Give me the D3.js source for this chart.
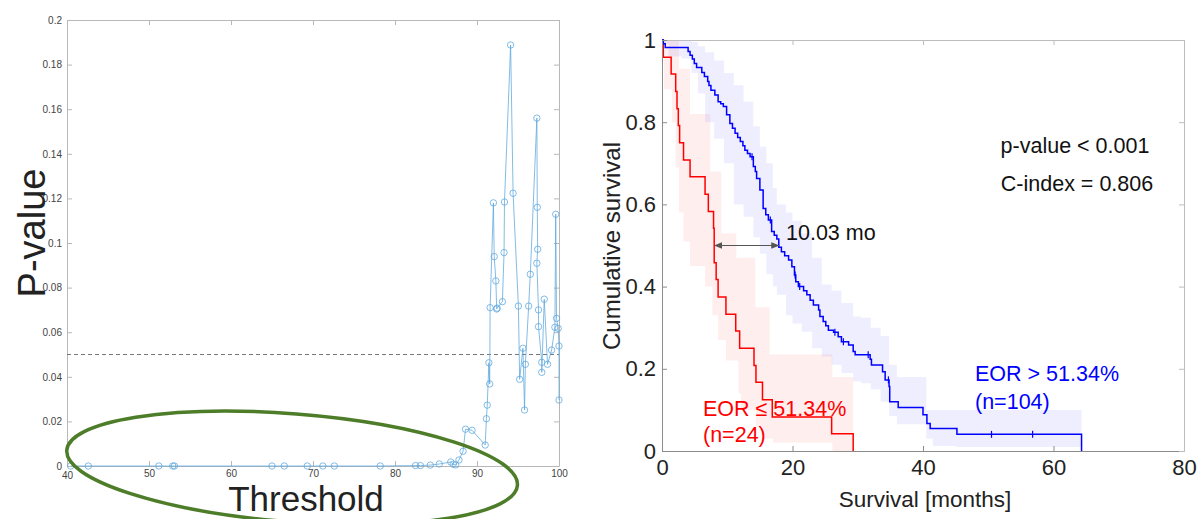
<!DOCTYPE html>
<html>
<head>
<meta charset="utf-8">
<script src="https://cdn.jsdelivr.net/npm/d3@7"></script>
<style>
  body { margin: 0; background: #fff; }
  text { font-family: Helvetica, Arial, "Liberation Sans", sans-serif; }
</style>
</head>
<body>
<div id="chart"></div>
<script>
// ==========================
// Data
// ==========================
// left panel: p-value per EOR threshold
const thresholds = [40.45, 42.6, 51.2, 52.9, 53.1, 65.0, 66.5, 69.3, 71.2, 72.6, 78.2,
  82.5, 83.1, 84.3, 85.4, 86.8, 87.1, 87.4, 87.8, 88.3, 88.6, 89.4, 91.0, 91.15, 91.25,
  91.45, 91.55, 91.6, 92.0, 92.1, 92.3, 92.4, 92.45, 93.1, 93.3, 93.35, 94.1, 94.4,
  95.05, 95.2, 95.6, 95.8, 95.9, 96.3, 96.5, 97.3, 97.35, 97.4, 97.3, 97.5, 97.5,
  97.9, 97.9, 98.2, 98.6, 99.1, 99.5, 99.6, 99.7, 99.9, 100, 100];
const pValues = [0, 0, 0, 0, 0, 0, 0, 0, 0, 0, 0,
  0.0002, 0.0002, 0.0004, 0.0009, 0.0018, 0.0008, 0.0005, 0.0027, 0.0066, 0.0165, 0.016, 0.0094, 0.0212, 0.0273,
  0.0463, 0.0368, 0.071, 0.118, 0.0939, 0.083, 0.0704, 0.0708, 0.0737, 0.0957, 0.1184, 0.1888, 0.1223,
  0.0717, 0.0389, 0.0528, 0.0251, 0.0456, 0.0717, 0.086, 0.156, 0.116, 0.0972, 0.0909, 0.07, 0.0625,
  0.0465, 0.042, 0.0748, 0.0456, 0.052, 0.0622, 0.1129, 0.0662, 0.0617, 0.0538, 0.0296];
const pCutoff = 0.05;

// right panel: Kaplan-Meier steps (time in months, survival after the drop)
const blueTimes = [0, 0.2, 0.5, 4.0, 4.3, 4.65, 4.95, 5.3, 6.1, 6.5, 7.0, 7.2, 7.5, 8.1, 8.6, 9.0, 9.4,
  9.9, 10.4, 10.8, 11.2, 11.6, 12.0, 12.4, 12.7, 13.1, 13.5, 14.0, 14.3, 14.5, 15.0, 15.5,
  15.9, 16.3, 16.8, 17.2, 17.6, 17.9, 18.3, 18.8, 19.4, 19.9, 20.3, 20.5, 20.9, 21.7, 22.2,
  22.7, 23.2, 24.0, 24.2, 24.7, 25.1, 25.5, 26.3, 27.0, 27.5, 28.6, 29.3, 29.6, 31.9, 32.1,
  33.8, 34.2, 34.8, 34.9, 36.2, 40.0, 40.6, 41.1, 45.2, 64.3];
const blueSurv = [1, 0.991, 0.982, 0.972, 0.963, 0.954, 0.943, 0.933, 0.921, 0.911, 0.899, 0.889, 0.878, 0.866, 0.85, 0.845, 0.838,
  0.818, 0.797, 0.785, 0.773, 0.763, 0.753, 0.743, 0.732, 0.724, 0.716, 0.692, 0.68, 0.663, 0.635, 0.59,
  0.575, 0.562, 0.534, 0.525, 0.516, 0.496, 0.485, 0.475, 0.465, 0.448, 0.428, 0.412, 0.40, 0.39, 0.38,
  0.367, 0.355, 0.343, 0.327, 0.315, 0.305, 0.294, 0.289, 0.278, 0.266, 0.258, 0.242, 0.234, 0.223, 0.209,
  0.193, 0.173, 0.157, 0.12, 0.106, 0.088, 0.067, 0.055, 0.0405, 0];
const blueCensor = [13.8, 16.6, 20.4, 21.1, 26.5, 27.8, 31.6, 34.7, 50.5, 56.8];

const redTimes = [0, 0.2, 1.4, 2.1, 2.3, 2.5, 2.7, 3.3, 4.3, 6.6, 7.1, 7.9, 8.0, 8.3, 8.6, 9.8,
  11.3, 11.9, 14.1, 14.4, 15.4, 16.9, 26.0, 29.3];
const redSurv = [1, 0.958, 0.917, 0.875, 0.833, 0.792, 0.75, 0.708, 0.667, 0.625, 0.583, 0.542, 0.458, 0.417, 0.375, 0.333,
  0.292, 0.25, 0.208, 0.167, 0.125, 0.083, 0.042, 0];

// confidence bands
const blueBandTimes = [0, 1, 3, 4.5, 5.5, 6.6, 8, 9.5, 11, 12.5, 14, 15, 16, 17, 17.6, 19, 20, 21.4,
  23, 24.5, 26, 27.5, 29.3, 30.5, 32, 33.5, 34.8, 36, 40.5, 41.5, 45, 64.3];
const blueBandLo = [0.99, 0.96, 0.955, 0.92, 0.87, 0.80, 0.76, 0.70, 0.60, 0.57, 0.52, 0.48, 0.43, 0.40, 0.38, 0.33, 0.31, 0.29,
  0.25, 0.23, 0.21, 0.19, 0.17, 0.165, 0.15, 0.12, 0.085, 0.065, 0.03, 0.012, 0.01, 0.01];
const blueBandHi = [1, 1, 1, 0.995, 0.985, 0.97, 0.95, 0.92, 0.89, 0.85, 0.79, 0.74, 0.70, 0.64, 0.60, 0.58, 0.56, 0.53,
  0.47, 0.405, 0.39, 0.36, 0.327, 0.324, 0.30, 0.28, 0.21, 0.18, 0.10, 0.10, 0.10, 0.10];

const redBandTimes = [0, 0.3, 1.5, 2.1, 2.6, 3.3, 4.3, 6.6, 7.4, 7.7, 8.6, 9.1, 9.8, 11.4, 11.7, 12.1, 14.3, 14.4,
  15.4, 16.5, 17.0, 26.1, 29.3];
const redBandLo = [0.96, 0.88, 0.80, 0.69, 0.58, 0.51, 0.45, 0.40, 0.40, 0.33, 0.27, 0.27, 0.22, 0.22, 0.14, 0.10, 0.10, 0.06,
  0.03, 0.03, 0.02, 0.0, 0.0];
const redBandHi = [1, 1, 1, 1, 0.93, 0.93, 0.82, 0.82, 0.68, 0.68, 0.68, 0.53, 0.53, 0.47, 0.47, 0.47, 0.35, 0.35,
  0.35, 0.235, 0.235, 0.18, 0.18];

const medians = [8.1, 17.9];

// ==========================
// SVG
// ==========================
const width = 1199, height = 519;
const svg = d3.select("#chart").append("svg")
  .attr("width", width).attr("height", height);

// ==========================
// Left panel
// ==========================
const xL = d3.scaleLinear().domain([40, 100]).range([67, 559]);
const yL = d3.scaleLinear().domain([0, 0.2]).range([466, 20]);
const left = svg.append("g");

function styleAxis(g, col, txt, fs) {
  g.selectAll("path, line").attr("stroke", col);
  g.selectAll("text").attr("fill", txt).attr("font-size", fs);
}

left.append("g").attr("transform", `translate(0,${yL(0)})`)
  .call(d3.axisBottom(xL).tickValues(d3.range(40, 101, 10)).tickSize(-5).tickSizeOuter(0).tickPadding(4))
  .call(g => styleAxis(g, "#b8b8b8", "#444", 10));
left.append("g").attr("transform", `translate(0,${yL(0.2)})`)
  .call(d3.axisTop(xL).tickValues(d3.range(40, 101, 10)).tickSize(-5).tickSizeOuter(0).tickFormat(""))
  .call(g => styleAxis(g, "#b8b8b8", "#444", 10));
left.append("g").attr("transform", `translate(${xL(40)},0)`)
  .call(d3.axisLeft(yL).tickValues(d3.range(0, 0.201, 0.02)).tickSize(-5).tickSizeOuter(0).tickPadding(5)
    .tickFormat(d => d3.format("~g")(+d.toFixed(2))))
  .call(g => styleAxis(g, "#b8b8b8", "#444", 10));
left.append("g").attr("transform", `translate(${xL(100)},0)`)
  .call(d3.axisRight(yL).tickValues(d3.range(0, 0.201, 0.02)).tickSize(-5).tickSizeOuter(0).tickFormat(""))
  .call(g => styleAxis(g, "#b8b8b8", "#444", 10));
// nudge the x "40" label below the y "0"
left.selectAll("text").filter(function() { return this.textContent === "40"; }).attr("dy", "0.9em");

// cutoff
left.append("line")
  .attr("x1", xL(40)).attr("x2", xL(100))
  .attr("y1", yL(pCutoff)).attr("y2", yL(pCutoff))
  .attr("stroke", "#777").attr("stroke-width", 1).attr("stroke-dasharray", "4,3");

const pts = thresholds.map((t, i) => ({ t, p: pValues[i] }));
left.append("path").datum(pts)
  .attr("fill", "none").attr("stroke", "#5aa5dc").attr("stroke-opacity", 0.75).attr("stroke-width", 1)
  .attr("d", d3.line().x(d => xL(d.t)).y(d => yL(d.p)));
left.selectAll(".pt").data(pts).enter().append("circle")
  .attr("cx", d => xL(d.t)).attr("cy", d => yL(d.p)).attr("r", 3.2)
  .attr("fill", "none").attr("stroke", "#5aa5dc").attr("stroke-opacity", 0.75).attr("stroke-width", 1);

left.append("text").attr("transform", "translate(45,233) rotate(-90)")
  .attr("text-anchor", "middle").attr("font-size", 38).attr("fill", "#222").text("P-value");
left.append("text").attr("x", 306).attr("y", 511)
  .attr("text-anchor", "middle").attr("font-size", 35).attr("fill", "#222").text("Threshold");

// annotation ellipse
const ell = { cx: 67.45, cy: -0.0008, rx: 226, ry: 54, angle: 4.45 };
left.append("ellipse")
  .attr("transform", `translate(${xL(ell.cx)},${yL(ell.cy)}) rotate(${ell.angle})`)
  .attr("rx", ell.rx).attr("ry", ell.ry)
  .attr("fill", "none").attr("stroke", "#4e7d2a").attr("stroke-width", 3.5);

// ==========================
// Right panel
// ==========================
const xR = d3.scaleLinear().domain([0, 80]).range([662, 1184]);
const yR = d3.scaleLinear().domain([0, 1]).range([451, 40]);
const right = svg.append("g");

function band(times, lo, hi, color) {
  const d = times.map((t, i) => ({ t, lo: lo[i], hi: hi[i] }));
  right.append("path").datum(d)
    .attr("fill", color).attr("fill-opacity", 0.065)
    .attr("d", d3.area().curve(d3.curveStepAfter)
      .x(d => xR(d.t)).y0(d => yR(d.lo)).y1(d => yR(d.hi)));
}
band(blueBandTimes, blueBandLo, blueBandHi, "#0000ff");
band(redBandTimes, redBandLo, redBandHi, "#ff0000");

function km(times, surv, color) {
  const d = times.map((t, i) => ({ t, s: surv[i] }));
  right.append("path").datum(d)
    .attr("fill", "none").attr("stroke", color).attr("stroke-width", 1.5)
    .attr("d", d3.line().curve(d3.curveStepAfter).x(d => xR(d.t)).y(d => yR(d.s)));
  return d;
}
km(redTimes, redSurv, "#ff0000");
const blueData = km(blueTimes, blueSurv, "#0000ff");

// censor marks
const survAt = t => { let s = 1; blueData.forEach(d => { if (d.t <= t) s = d.s; }); return s; };
right.selectAll(".cens").data(blueCensor).enter().append("line")
  .attr("x1", d => xR(d)).attr("x2", d => xR(d))
  .attr("y1", d => yR(survAt(d)) - 3.5).attr("y2", d => yR(survAt(d)) + 3.5)
  .attr("stroke", "#0000ff").attr("stroke-width", 1.2);

// axes
right.append("g").attr("transform", `translate(0,${yR(0)})`)
  .call(d3.axisBottom(xR).tickValues([0, 20, 40, 60, 80]).tickSize(-5).tickSizeOuter(0).tickPadding(8))
  .call(g => styleAxis(g, "#8c8c8c", "#222", 22));
right.append("g").attr("transform", `translate(0,${yR(1)})`)
  .call(d3.axisTop(xR).tickValues([0, 20, 40, 60, 80]).tickSize(-5).tickSizeOuter(0).tickFormat(""))
  .call(g => styleAxis(g, "#bdbdbd", "#222", 22));
right.append("g").attr("transform", `translate(${xR(0)},0)`)
  .call(d3.axisLeft(yR).tickValues([0, 0.2, 0.4, 0.6, 0.8, 1]).tickSize(-5).tickSizeOuter(0).tickPadding(6)
    .tickFormat(d3.format("~g")))
  .call(g => styleAxis(g, "#8c8c8c", "#222", 22));
right.append("g").attr("transform", `translate(${xR(80)},0)`)
  .call(d3.axisRight(yR).tickValues([0, 0.2, 0.4, 0.6, 0.8, 1]).tickSize(-5).tickSizeOuter(0).tickFormat(""))
  .call(g => styleAxis(g, "#bdbdbd", "#222", 22));

right.append("text").attr("transform", "translate(620,246) rotate(-90)")
  .attr("text-anchor", "middle").attr("font-size", 24).attr("fill", "#222").text("Cumulative survival");
right.append("text").attr("x", 925).attr("y", 507)
  .attr("text-anchor", "middle").attr("font-size", 22.5).attr("fill", "#222").text("Survival [months]");

// median difference arrow
svg.append("defs").append("marker")
  .attr("id", "ah").attr("viewBox", "0 0 10 10").attr("refX", 9).attr("refY", 5)
  .attr("markerWidth", 7).attr("markerHeight", 7).attr("orient", "auto-start-reverse")
  .append("path").attr("d", "M0,1 L10,5 L0,9 Z").attr("fill", "#555");
right.append("line")
  .attr("x1", xR(medians[0])).attr("x2", xR(medians[1]))
  .attr("y1", yR(0.5)).attr("y2", yR(0.5))
  .attr("stroke", "#555").attr("stroke-width", 1.2)
  .attr("marker-start", "url(#ah)").attr("marker-end", "url(#ah)");
right.append("text").attr("x", 786).attr("y", 240)
  .attr("font-size", 21.5).attr("fill", "#111").text("10.03 mo");

right.append("text").attr("x", 1075).attr("y", 153).attr("text-anchor", "middle")
  .attr("font-size", 21.5).attr("fill", "#111").text("p-value < 0.001");
right.append("text").attr("x", 1077).attr("y", 191).attr("text-anchor", "middle")
  .attr("font-size", 21.5).attr("fill", "#111").text("C-index = 0.806");

right.append("text").attr("x", 975).attr("y", 381)
  .attr("font-size", 21.5).attr("fill", "#0000ff").text("EOR > 51.34%");
right.append("text").attr("x", 975).attr("y", 409)
  .attr("font-size", 21.5).attr("fill", "#0000ff").text("(n=104)");
right.append("text").attr("x", 703).attr("y", 416)
  .attr("font-size", 21.5).attr("fill", "#ff0000").text("EOR \u2264 51.34%");
right.append("text").attr("x", 703).attr("y", 442)
  .attr("font-size", 21.5).attr("fill", "#ff0000").text("(n=24)");
</script>
</body>
</html>
